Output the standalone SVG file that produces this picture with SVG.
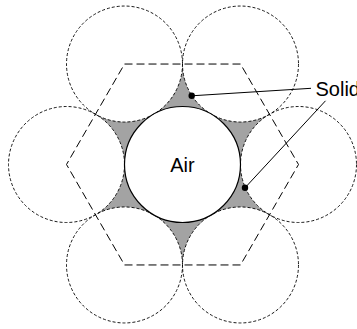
<svg xmlns="http://www.w3.org/2000/svg" width="357" height="329" viewBox="0 0 357 329">
  <style>
    .outer { fill: none; stroke: #000; stroke-width: 0.9; stroke-dasharray: 3 2; }
    .hex { fill: none; stroke: #000; stroke-width: 1; stroke-dasharray: 8 4; }
    .gap { fill: #a3a3a3; stroke: none; }
    .core { fill: #ffffff; stroke: #000; stroke-width: 1.2; }
    .lbl { font-family: "Liberation Sans", Arial, sans-serif; font-size: 20px; fill: #000; }
    .lead { stroke: #000; stroke-width: 1; fill: none; }
    .dot { fill: #000; }
  </style>
  <rect width="357" height="329" fill="#ffffff"/>
  <g id="solid-gaps">
    <path class="gap" d="M240.5 164.5 A58 58 0 0 1 211.5 214.73 A58 58 0 0 1 269.5 214.73 A58 58 0 0 1 240.5 164.5 Z"/>
    <path class="gap" d="M211.5 214.73 A58 58 0 0 1 153.5 214.73 A58 58 0 0 1 182.5 264.96 A58 58 0 0 1 211.5 214.73 Z"/>
    <path class="gap" d="M153.5 214.73 A58 58 0 0 1 124.5 164.5 A58 58 0 0 1 95.5 214.73 A58 58 0 0 1 153.5 214.73 Z"/>
    <path class="gap" d="M124.5 164.5 A58 58 0 0 1 153.5 114.27 A58 58 0 0 1 95.5 114.27 A58 58 0 0 1 124.5 164.5 Z"/>
    <path class="gap" d="M153.5 114.27 A58 58 0 0 1 211.5 114.27 A58 58 0 0 1 182.5 64.04 A58 58 0 0 1 153.5 114.27 Z"/>
    <path class="gap" d="M211.5 114.27 A58 58 0 0 1 240.5 164.5 A58 58 0 0 1 269.5 114.27 A58 58 0 0 1 211.5 114.27 Z"/>
  </g>
  <g id="outer-circles">
    <circle id="p1" class="outer" cx="298.5" cy="164.5" r="58"/>
    <circle id="p2" class="outer" cx="240.5" cy="264.96" r="58"/>
    <circle id="p3" class="outer" cx="124.5" cy="264.96" r="58"/>
    <circle id="p4" class="outer" cx="66.5" cy="164.5" r="58"/>
    <circle id="p5" class="outer" cx="124.5" cy="64.04" r="58"/>
    <circle id="p6" class="outer" cx="240.5" cy="64.04" r="58"/>
  </g>
  <g id="hexagon">
    <polygon class="hex" points="124.5,64.04 240.5,64.04 298.5,164.5 240.5,264.96 124.5,264.96 66.5,164.5"/>
  </g>
  <g id="air">
    <circle class="core" cx="182.5" cy="164.5" r="58"/>
    <text class="lbl" x="182.5" y="171.5" text-anchor="middle">Air</text>
  </g>
  <g id="solid-label">
    <text class="lbl" x="315.5" y="95.5">Solid</text>
  </g>
  <g id="connectors">
    <line class="lead" x1="191.7" y1="95.8" x2="311" y2="88.3"/>
    <circle class="dot" cx="191.7" cy="95.8" r="3.2"/>
    <line class="lead" x1="245" y1="187.8" x2="325.5" y2="100.8"/>
    <circle class="dot" cx="245" cy="187.8" r="3.2"/>
  </g>
</svg>
